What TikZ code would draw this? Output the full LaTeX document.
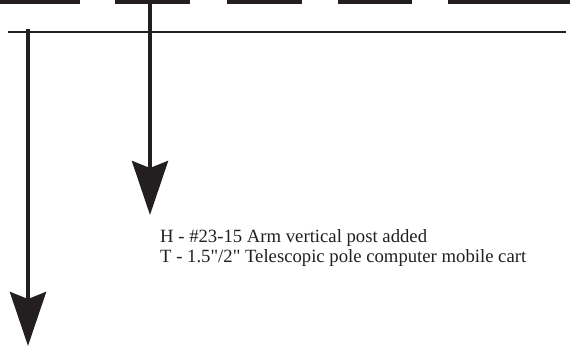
\documentclass[tikz,border=0pt]{standalone}
\usepackage{fontspec}
\setmainfont{Liberation Serif}
\usetikzlibrary{arrows.meta, positioning}
\definecolor{ink}{HTML}{231F20}
\tikzset{
    >={Stealth[length=54pt, width=36pt, inset=7pt]},
    % Lines
    rail/.style={line width=4.4pt, ink},
    guide/.style={line width=2.8pt, ink},
    post/.style={->, line width=4pt, ink},
    % Labels
    note/.style={align=left, inner sep=0pt, text=ink, font=\fontsize{18.7}{19.5}\selectfont}
}

\begin{document}
\begin{tikzpicture}[x=1pt, y=-1pt]
\useasboundingbox (0,0) rectangle (570,347);

% dashed rail along the top
\foreach \a/\b in {0/80, 115/190, 227/302, 338/412, 448/570}
    \draw[rail] (\a,2.2) -- (\b,2.2);

\coordinate (railL) at (8,32);
\coordinate (railR) at (566,32);
\draw[guide] (railL) -- (railR);

\coordinate (armTop) at (150,0);
\coordinate (armEnd) at (150,215);
\coordinate (cartTop) at (28,29);
\coordinate (cartEnd) at (28,346);
\draw[post] (armTop) -- (armEnd);
\draw[post] (cartTop) -- (cartEnd);

\node[note, anchor=base west] (labels) at (160,262)
    {H - \#23-15 Arm vertical post added\\T - 1.5\textquotedbl/2\textquotedbl{} Telescopic pole computer mobile cart};

\end{tikzpicture}
\end{document}
